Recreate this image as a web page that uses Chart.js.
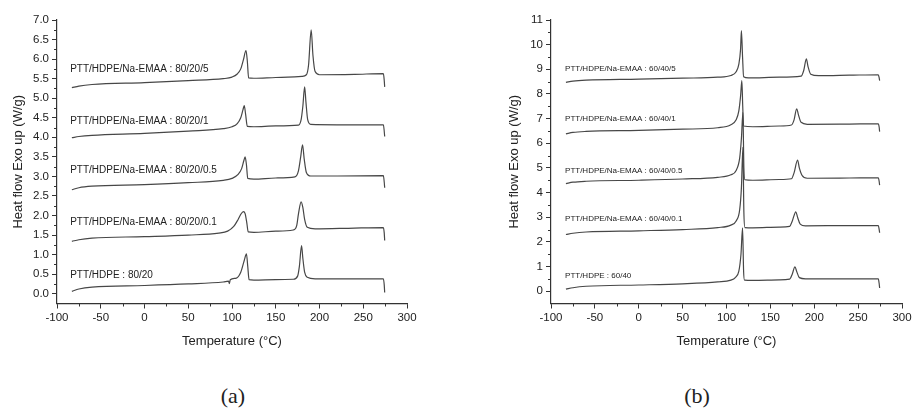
<!DOCTYPE html>
<html>
<head>
<meta charset="utf-8">
<script src="https://cdn.jsdelivr.net/npm/chart.js@4.4.1/dist/chart.umd.min.js"></script>
<style>
body { margin: 0; background: #fff; width: 915px; height: 415px; position: relative; overflow: hidden; }
canvas { position: absolute; top: 0; }
#ca { left: 0; }
#cb { left: 460px; }
.tag { position: absolute; top: 383px; width: 60px; text-align: center; font: 22px "Liberation Serif", "DejaVu Serif", serif; color: #222; }
</style>
</head>
<body>
<canvas id="ca" width="460" height="360"></canvas>
<canvas id="cb" width="455" height="360"></canvas>
<div class="tag" style="left:203px">(a)</div>
<div class="tag" style="left:667px">(b)</div>
<script>
// DSC traces: temperature (°C) and heat flow (W/g), exo up

// panel (a) - PTT/HDPE 80/20
const T_A1  = [-83, -75, -60, 0, 50, 90, 96, 97, 98, 105, 110, 114, 116.5, 118, 119.5, 125, 150, 170, 175, 177, 179.5, 181, 183, 186, 195, 240, 273, 274, 274.5];
const HF_A1 = [0.06, 0.12, 0.17, 0.21, 0.25, 0.3, 0.32, 0.26, 0.36, 0.4, 0.55, 0.85, 1.02, 0.7, 0.36, 0.35, 0.36, 0.37, 0.45, 0.7, 1.23, 0.9, 0.55, 0.42, 0.38, 0.38, 0.38, 0.22, 0.03];
const T_A2  = [-83, -75, -60, 0, 50, 85, 95, 102, 107, 110, 113, 115, 117, 118.5, 125, 150, 170, 174, 176, 179, 181, 183, 186, 195, 240, 273, 274, 274.5];
const HF_A2 = [1.34, 1.38, 1.42, 1.46, 1.5, 1.55, 1.6, 1.72, 1.9, 2.03, 2.1, 2.05, 1.8, 1.58, 1.57, 1.6, 1.63, 1.75, 2.05, 2.35, 2.2, 1.9, 1.7, 1.66, 1.68, 1.69, 1.55, 1.36];
const T_A3  = [-83, -75, -60, 0, 50, 90, 100, 107, 111, 113.5, 115, 116.5, 118, 125, 150, 172, 176, 178.5, 180.6, 182.5, 185, 190, 220, 273, 274, 274.5];
const HF_A3 = [2.66, 2.71, 2.75, 2.79, 2.84, 2.9, 2.95, 3.05, 3.2, 3.4, 3.5, 3.3, 2.95, 2.93, 2.96, 2.99, 3.15, 3.5, 3.81, 3.45, 3.1, 3.01, 3.01, 3.02, 2.85, 2.71];
const T_A4  = [-83, -75, -60, 0, 50, 90, 100, 106, 110, 112.5, 114, 115.5, 117.5, 125, 150, 176, 179, 181, 183, 184.5, 186.5, 190, 220, 273, 274, 274.5];
const HF_A4 = [3.99, 4.02, 4.05, 4.1, 4.16, 4.22, 4.27, 4.35, 4.5, 4.7, 4.81, 4.6, 4.28, 4.27, 4.29, 4.31, 4.45, 4.8, 5.29, 4.9, 4.45, 4.33, 4.32, 4.32, 4.15, 4.02];
const T_A5  = [-83, -75, -60, 0, 50, 90, 100, 106, 110, 113, 116, 117.5, 119, 125, 150, 180, 185, 187.5, 190.5, 192.5, 195, 200, 240, 273, 274, 274.5];
const HF_A5 = [5.27, 5.31, 5.35, 5.4, 5.45, 5.5, 5.54, 5.62, 5.75, 5.98, 6.22, 5.95, 5.52, 5.51, 5.53, 5.56, 5.6, 5.85, 6.75, 6.1, 5.68, 5.6, 5.61, 5.63, 5.45, 5.29];

// panel (b) - PTT/HDPE 60/40
const T_B1  = [-83, -75, -60, 0, 50, 90, 105, 110, 114, 116.5, 118.3, 119.5, 120.5, 130, 160, 172, 175, 178, 180, 183, 190, 240, 273, 274, 274.5];
const HF_B1 = [0.08, 0.14, 0.2, 0.25, 0.3, 0.38, 0.45, 0.55, 0.8, 1.5, 2.57, 0.8, 0.45, 0.44, 0.46, 0.49, 0.7, 0.99, 0.8, 0.55, 0.5, 0.5, 0.5, 0.3, 0.13];
const T_B2  = [-83, -75, -60, 0, 50, 90, 105, 111, 115, 117, 118.7, 119.8, 121, 130, 160, 172, 175, 179, 181, 184, 190, 240, 273, 274, 274.5];
const HF_B2 = [2.3, 2.35, 2.4, 2.45, 2.5, 2.58, 2.68, 2.85, 3.3, 4.2, 5.83, 3.2, 2.58, 2.57, 2.6, 2.63, 2.85, 3.22, 3.0, 2.72, 2.65, 2.66, 2.66, 2.5, 2.37];
const T_B3  = [-83, -75, -60, 0, 50, 90, 105, 111, 115, 117, 118.7, 119.8, 121, 130, 160, 174, 177, 181, 183, 186, 192, 240, 273, 274, 274.5];
const HF_B3 = [4.36, 4.42, 4.46, 4.5, 4.55, 4.62, 4.72, 4.9, 5.4, 6.2, 7.25, 5.0, 4.52, 4.5, 4.53, 4.56, 4.8, 5.32, 5.0, 4.7, 4.58, 4.59, 4.6, 4.45, 4.3];
const T_B4  = [-83, -75, -60, 0, 50, 90, 105, 111, 114, 116, 117.5, 118.5, 119.5, 130, 160, 174, 177, 180, 182, 185, 192, 240, 273, 274, 274.5];
const HF_B4 = [6.38, 6.44, 6.48, 6.52, 6.57, 6.63, 6.75, 6.95, 7.3, 7.9, 8.54, 7.5, 6.7, 6.67, 6.7, 6.74, 6.95, 7.4, 7.15, 6.85, 6.77, 6.78, 6.79, 6.65, 6.47];
const T_B5  = [-83, -75, -60, 0, 50, 90, 105, 111, 114, 116, 117, 118.3, 119.5, 125, 160, 185, 188, 191, 193, 196, 205, 240, 273, 274, 274.5];
const HF_B5 = [8.47, 8.52, 8.56, 8.6, 8.64, 8.68, 8.75, 8.9, 9.2, 9.8, 10.57, 9.5, 8.7, 8.65, 8.68, 8.72, 8.95, 9.42, 9.1, 8.8, 8.74, 8.76, 8.78, 8.65, 8.54];

const NAMES_A = ['PTT/HDPE : 80/20', 'PTT/HDPE/Na-EMAA : 80/20/0.1', 'PTT/HDPE/Na-EMAA : 80/20/0.5', 'PTT/HDPE/Na-EMAA : 80/20/1', 'PTT/HDPE/Na-EMAA : 80/20/5'];
const NAMES_B = ['PTT/HDPE : 60/40', 'PTT/HDPE/Na-EMAA : 60/40/0.1', 'PTT/HDPE/Na-EMAA : 60/40/0.5', 'PTT/HDPE/Na-EMAA : 60/40/1', 'PTT/HDPE/Na-EMAA : 60/40/5'];

const X_TICKS = [-100, -50, 0, 50, 100, 150, 200, 250, 300];
const X_MINOR = [-75, -25, 25, 75, 125, 175, 225, 275];
const Y_TICKS_A = [0, 0.5, 1, 1.5, 2, 2.5, 3, 3.5, 4, 4.5, 5, 5.5, 6, 6.5, 7];
const Y_MINOR_A = [0.25, 0.75, 1.25, 1.75, 2.25, 2.75, 3.25, 3.75, 4.25, 4.75, 5.25, 5.75, 6.25, 6.75];
const Y_TICKS_B = [0, 1, 2, 3, 4, 5, 6, 7, 8, 9, 10, 11];
const Y_MINOR_B = [0.5, 1.5, 2.5, 3.5, 4.5, 5.5, 6.5, 7.5, 8.5, 9.5, 10.5];

// where each curve name sits (temperature, heat flow)
const NAME_AT_A = [[-85, 0.47], [-85, 1.82], [-85, 3.15], [-85, 4.40], [-85, 5.73]];
const NAME_AT_B = [[-84, 0.64], [-84, 2.93], [-84, 4.88], [-84, 7.0], [-84, 9.01]];

const INK = '#333';
const FONT = '"Liberation Sans", Arial, sans-serif';

// Origin-style small ticks between the labelled ones
const minorTicks = {
  id: 'minorTicks',
  afterDraw(chart, args, opts) {
    const { ctx, chartArea: a, scales: { x, y } } = chart;
    ctx.save();
    ctx.strokeStyle = INK;
    ctx.lineWidth = 1;
    ctx.beginPath();
    opts.x.forEach(v => {
      const px = Math.round(x.getPixelForValue(v)) + 0.5;
      ctx.moveTo(px, a.bottom); ctx.lineTo(px, a.bottom + 3);
    });
    opts.y.forEach(v => {
      const py = Math.round(y.getPixelForValue(v)) + 0.5;
      ctx.moveTo(a.left, py); ctx.lineTo(a.left - 3, py);
    });
    ctx.stroke();
    ctx.restore();
  }
};

// sample names written next to each trace
const curveNames = {
  id: 'curveNames',
  afterDatasetsDraw(chart, args, opts) {
    const { ctx, scales: { x, y } } = chart;
    ctx.save();
    ctx.fillStyle = '#222';
    ctx.font = opts.size + 'px ' + FONT;
    ctx.textAlign = 'left';
    ctx.textBaseline = 'middle';
    opts.names.forEach((n, i) => {
      const [t, hf] = opts.at[i];
      ctx.fillText(n, x.getPixelForValue(t), y.getPixelForValue(hf));
    });
    ctx.restore();
  }
};

function makeChart(id, curves, cfg) {
  const datasets = curves.map(([t, hf]) => ({
    data: t.map((v, i) => ({ x: v, y: hf[i] })),
    borderColor: '#474747',
    borderWidth: 1.2,
    pointRadius: 0,
    fill: false,
    cubicInterpolationMode: 'monotone'
  }));
  return new Chart(document.getElementById(id), {
    type: 'line',
    data: { datasets },
    options: {
      responsive: false,
      animation: false,
      events: [],
      layout: { padding: { top: 20, right: cfg.padRight, left: 0, bottom: 0 } },
      plugins: {
        legend: { display: false },
        tooltip: { enabled: false },
        minorTicks: { x: X_MINOR, y: cfg.yMinor },
        curveNames: { names: cfg.names, at: cfg.nameAt, size: cfg.nameSize }
      },
      scales: {
        x: {
          type: 'linear', min: -100, max: 300,
          afterBuildTicks: s => { s.ticks = X_TICKS.map(v => ({ value: v })); },
          afterFit: s => { s.height = 56.5; },
          border: { color: INK, width: 1.2 },
          grid: { drawOnChartArea: false, tickLength: 5, color: INK },
          ticks: { color: '#222', font: { family: FONT, size: 11.5 }, padding: 2, maxRotation: 0, autoSkip: false },
          title: { display: true, text: 'Temperature (°C)', color: '#222', font: { family: FONT, size: 13 }, padding: { top: 0, bottom: 11 } }
        },
        y: {
          type: 'linear', min: cfg.yMin, max: cfg.yMax,
          afterBuildTicks: s => { s.ticks = cfg.yTicks.map(v => ({ value: v })); },
          afterFit: s => { s.width = cfg.yWidth; },
          border: { color: INK, width: 1.2 },
          grid: { drawOnChartArea: false, tickLength: 5, color: INK },
          ticks: { color: '#222', font: { family: FONT, size: 11.5 }, padding: 3, callback: cfg.fmt },
          title: { display: true, text: 'Heat flow Exo up (W/g)', color: '#222', font: { family: FONT, size: 13 }, padding: { top: cfg.titlePad, bottom: 0 } }
        }
      }
    },
    plugins: [minorTicks, curveNames]
  });
}

makeChart('ca',
  [[T_A1, HF_A1], [T_A2, HF_A2], [T_A3, HF_A3], [T_A4, HF_A4], [T_A5, HF_A5]],
  { padRight: 53, yMin: -0.25, yMax: 7, yTicks: Y_TICKS_A, yMinor: Y_MINOR_A, yWidth: 57,
    titlePad: 11, fmt: v => v.toFixed(1), names: NAMES_A, nameAt: NAME_AT_A, nameSize: 10 });

makeChart('cb',
  [[T_B1, HF_B1], [T_B2, HF_B2], [T_B3, HF_B3], [T_B4, HF_B4], [T_B5, HF_B5]],
  { padRight: 13, yMin: -0.5, yMax: 11, yTicks: Y_TICKS_B, yMinor: Y_MINOR_B, yWidth: 91,
    titlePad: 47, fmt: v => String(v), names: NAMES_B, nameAt: NAME_AT_B, nameSize: 8 });
</script>
</body>
</html>
